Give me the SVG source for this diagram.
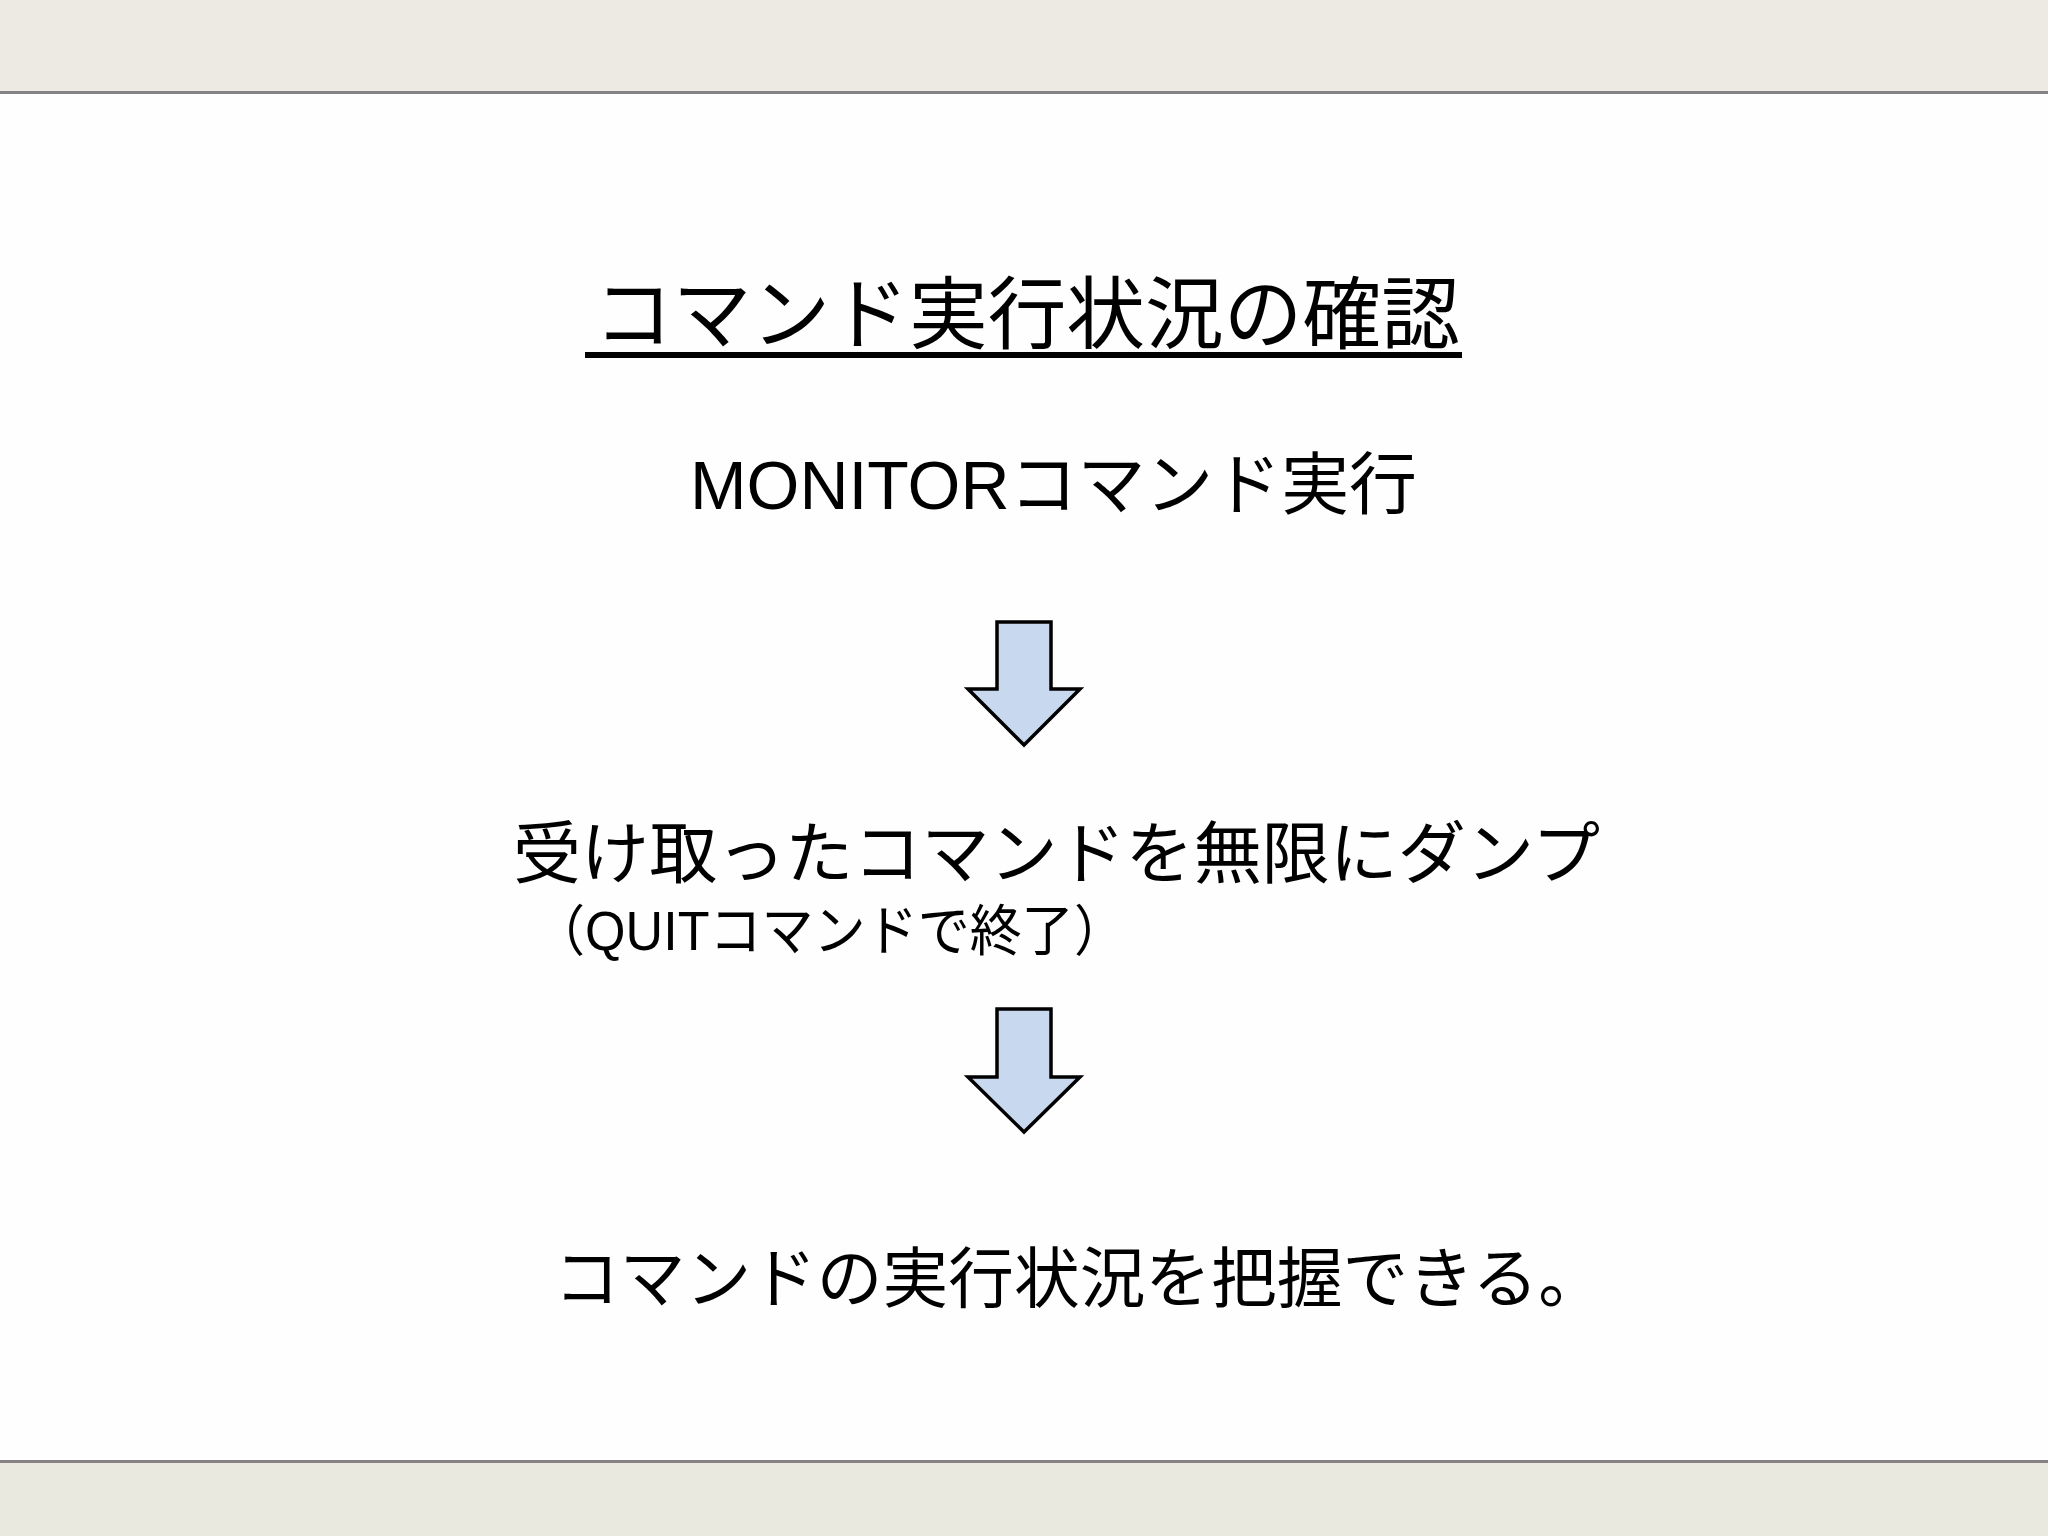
<svg xmlns="http://www.w3.org/2000/svg" width="2048" height="1536" viewBox="0 0 2048 1536">
<defs>
<style>
.jp{font-family:"Noto Sans CJK JP","Liberation Sans",sans-serif;fill:#000}
.arrow{fill:#C8D8EF;stroke:#000;stroke-width:3.5;stroke-linejoin:miter}
</style>
</defs>
<rect x="0" y="0" width="2048" height="1536" fill="#FEFEFE"/>
<g id="top-band">
<rect x="0" y="0" width="2048" height="91" fill="#EDEAE3"/>
<rect x="0" y="91" width="2048" height="3" fill="#858285"/>
</g>
<g id="bottom-band">
<rect x="0" y="1460" width="2048" height="3" fill="#858285"/>
<rect x="0" y="1463" width="2048" height="73" fill="#EAE9DF"/>
</g>
<g id="title">
<text class="jp" x="594" y="343" font-size="79" textLength="866" lengthAdjust="spacingAndGlyphs">コマンド実行状況の確認</text>
<rect x="585" y="352" width="877" height="6" fill="#000"/>
</g>
<g id="node-monitor">
<text class="jp" x="690" y="509" font-size="68" textLength="727" lengthAdjust="spacingAndGlyphs"><tspan font-family="Liberation Sans">MONITOR</tspan>コマンド実行</text>
</g>
<g id="connectors">
<polygon class="arrow" points="997,622 1051,622 1051,689 1080,689 1024,745 968,689 997,689"/>
<polygon class="arrow" points="997,1009 1051,1009 1051,1077 1080,1077 1024,1132 968,1077 997,1077"/>
</g>
<g id="node-dump">
<text class="jp" x="513" y="878" font-size="68" textLength="1087" lengthAdjust="spacingAndGlyphs">受け取ったコマンドを無限にダンプ</text>
<text class="jp" x="533" y="950" font-size="55" textLength="593" lengthAdjust="spacingAndGlyphs">（<tspan font-family="Liberation Sans">QUIT</tspan>コマンドで終了）</text>
</g>
<g id="node-result">
<text class="jp" x="554" y="1302" font-size="66" textLength="1050" lengthAdjust="spacingAndGlyphs">コマンドの実行状況を把握できる。</text>
</g>
</svg>
